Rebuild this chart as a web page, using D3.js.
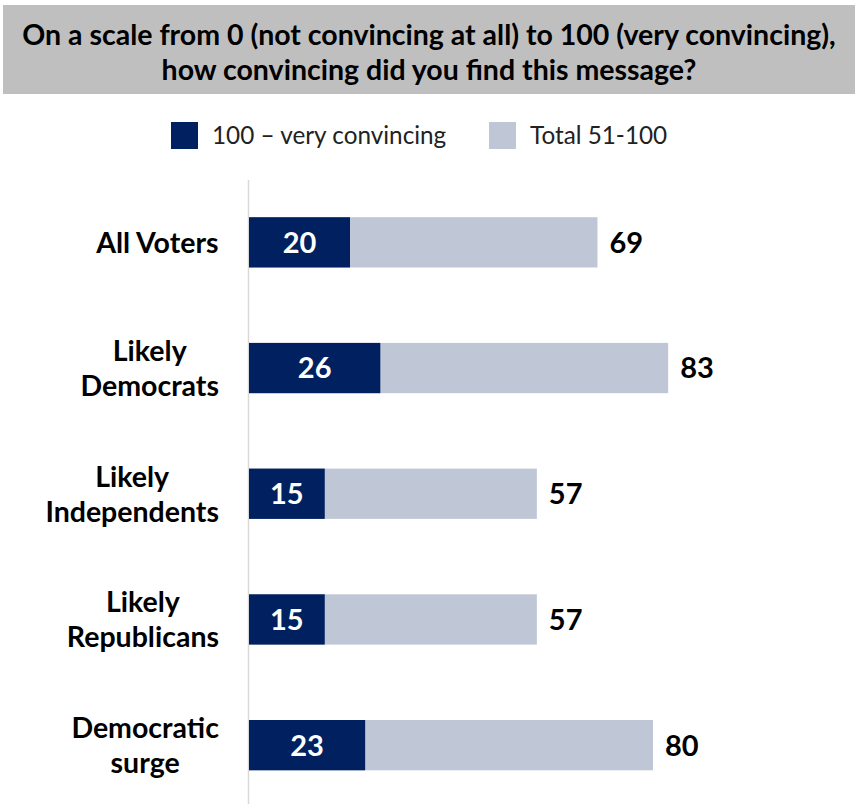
<!DOCTYPE html>
<html>
<head>
<meta charset="utf-8">
<script src="https://cdn.jsdelivr.net/npm/d3@7"></script>
<style>
  html, body { margin: 0; padding: 0; background: #fff; }
  .chart { width: 858px; height: 804px; }
</style>
</head>
<body>
<div class="chart"></div>
<script>
// 차트 데이터
const categories = ['All Voters', 'Likely\nDemocrats', 'Likely\nIndependents', 'Likely\nRepublicans', 'Democratic\nsurge'];
const veryConvincing = [20, 26, 15, 15, 23];   // 100 – very convincing
const total51to100 = [69, 83, 57, 57, 80];     // Total 51-100
const seriesNames = ['100 – very convincing', 'Total 51-100'];
const titleLines = ['On a scale from 0 (not convincing at all) to 100 (very convincing),', 'how convincing did you find this message?'];

const Width = 858, Height = 804;
const FontFamily = 'Lato, "Open Sans", sans-serif';
const Colors = ['#002060', '#bfc6d6'];

const chartData = categories.map((c, i) => ({category: c, very: veryConvincing[i], total: total51to100[i]}));

const svg = d3.select('.chart')
  .append('svg')
  .attr('width', Width)
  .attr('height', Height)
  .attr('font-family', FontFamily);

/******************** 제목 ********************/
svg.append('rect')
  .attr('x', 3).attr('y', 5)
  .attr('width', Width - 6).attr('height', 89)
  .attr('fill', '#bfbfbf');

svg.append('g')
  .selectAll('text')
  .data(titleLines)
  .join('text')
    .attr('x', Width / 2)
    .attr('y', (d, i) => 45 + i * 35)
    .attr('text-anchor', 'middle')
    .attr('font-size', '28.5px')
    .attr('font-weight', 'bold')
    .attr('fill', '#000')
    .text(d => d);

/******************** 범례 ********************/
const legendX = [171, 489];
const legend = svg.append('g')
  .selectAll('g')
  .data(seriesNames)
  .join('g')
    .attr('transform', (d, i) => `translate(${legendX[i]}, 122)`);
legend.append('rect')
  .attr('width', 27).attr('height', 27)
  .attr('fill', (d, i) => Colors[i]);
legend.append('text')
  .attr('x', 41)
  .attr('y', 22)
  .attr('font-size', '24.3px')
  .attr('fill', '#222')
  .text(d => d);

/******************** 스케일 ********************/
const xScale = d3.scaleLinear([0, 100], [249, 754]);
const yScale = d3.scaleBand(categories, [179.5, 808]).paddingInner(0.6).paddingOuter(0.3);

// y축 선
svg.append('g')
  .attr('transform', `translate(248, 0)`)
  .call(d3.axisLeft(yScale).tickSize(0).tickFormat(''))
  .call(g => g.select('.domain').attr('stroke', '#d9d9d9').attr('stroke-width', 1.5));

/******************** 막대 ********************/
svg.append('g')
  .selectAll('rect')
  .data(chartData)
  .join('rect')
    .attr('x', xScale(0))
    .attr('y', d => yScale(d.category))
    .attr('width', d => xScale(d.total) - xScale(0))
    .attr('height', yScale.bandwidth())
    .attr('fill', Colors[1]);

svg.append('g')
  .selectAll('rect')
  .data(chartData)
  .join('rect')
    .attr('x', xScale(0))
    .attr('y', d => yScale(d.category))
    .attr('width', d => xScale(d.very) - xScale(0))
    .attr('height', yScale.bandwidth())
    .attr('fill', Colors[0]);

/******************** 데이터 레이블 ********************/
const yMid = d => yScale(d.category) + yScale.bandwidth() / 2;

svg.append('g')
  .selectAll('text')
  .data(chartData)
  .join('text')
    .attr('x', d => (xScale(0) + xScale(d.very)) / 2)
    .attr('y', yMid)
    .attr('dy', '0.36em')
    .attr('text-anchor', 'middle')
    .attr('font-size', '29px')
    .attr('font-weight', 'bold')
    .attr('fill', '#fff')
    .text(d => d.very);

svg.append('g')
  .selectAll('text')
  .data(chartData)
  .join('text')
    .attr('x', d => xScale(d.total) + 12)
    .attr('y', yMid)
    .attr('dy', '0.36em')
    .attr('font-size', '29px')
    .attr('font-weight', 'bold')
    .attr('fill', '#000')
    .text(d => d.total);

/******************** 카테고리 레이블 ********************/
svg.append('g')
    .attr('class', 'cat-labels')
  .selectAll('text')
  .data(chartData)
  .join('text')
    .attr('text-anchor', 'middle')
    .attr('font-size', '28.5px')
    .attr('font-weight', 'bold')
    .attr('fill', '#000')
  .selectAll('tspan')
  .data(d => {
    const lines = d.category.split('\n');
    return lines.map((t, i) => ({t, i, n: lines.length, d}));
  })
  .join('tspan')
    .attr('x', 0)
    .attr('y', l => yMid(l.d) + (l.i - (l.n - 1) / 2) * 35)
    .attr('dy', '0.36em')
    .text(l => l.t);

// 가운데 정렬 후 오른쪽 끝을 x=219에 맞춤
svg.selectAll('g.cat-labels > text').each(function(){
  const w = this.getBBox().width;
  d3.select(this).attr('transform', `translate(${219 - w / 2}, 0)`);
});
</script>
</body>
</html>
